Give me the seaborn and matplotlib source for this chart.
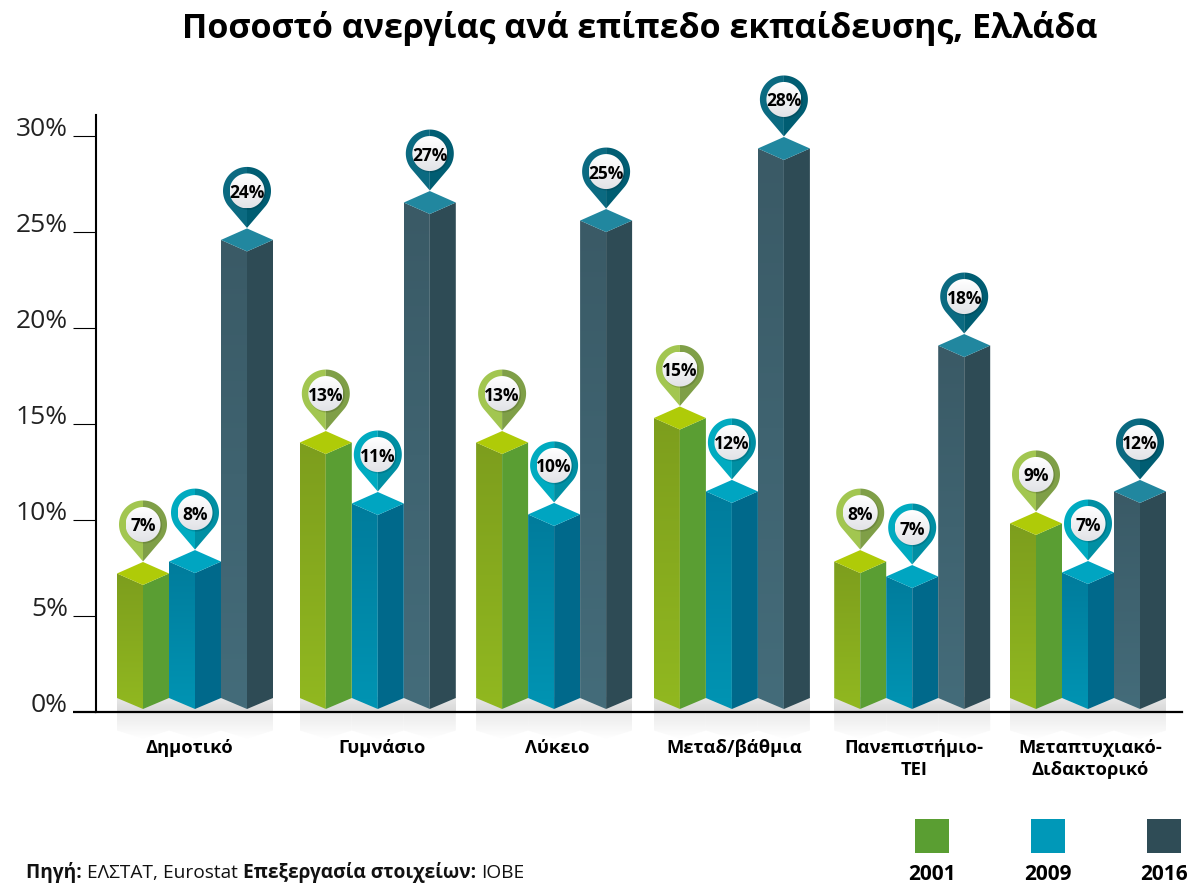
import numpy as np
import pandas as pd
import seaborn as sns
from matplotlib import pyplot as plt
from matplotlib.patches import Polygon, Rectangle

# values
levels = ['Δημοτικό', 'Γυμνάσιο', 'Λύκειο', 'Μεταδ/βάθμια', 'Πανεπιστήμιο-\nΤΕΙ', 'Μεταπτυχιακό-\nΔιδακτορικό']
years = ['2001', '2009', '2016']
rate_2001 = [7.2, 14.03, 14.03, 15.31, 7.82, 9.81]
rate_2009 = [7.82, 10.85, 10.28, 11.48, 7.04, 7.25]
rate_2016 = [24.6, 26.55, 25.61, 29.37, 19.09, 11.48]
shown_2001 = ['7%', '13%', '13%', '15%', '8%', '9%']
shown_2009 = ['8%', '11%', '10%', '12%', '7%', '7%']
shown_2016 = ['24%', '27%', '25%', '28%', '18%', '12%']
yticks = [0, 5, 10, 15, 20, 25, 30]

## layout, in pixels of the 1195x885 picture
W, H = 1195, 885
AX_LEFT, AX_RIGHT, AX_TOP, AX_ZERO = 96, 1182, 115, 711.5
PX_PER_PCT = 19.17
GROUP_STEP = 178.8
BAR_W = 52
DIAMOND = 11.5
group_nudge = [0, 4, 1.5, 0.5, 2, -1]
label_nudge = [-6, 8, 5, 3, 4, 1]

face_left = {'2001': ('#7d9e1d', '#91b820'), '2009': ('#007c9c', '#0094b3'), '2016': ('#3a5a66', '#446c7a')}
face_right = {'2001': '#5a9e33', '2009': '#00698b', '2016': '#2e4b55'}
face_top = {'2001': '#afcb08', '2009': '#00a5c1', '2016': '#21879f'}
pin_left = {'2001': '#a2c650', '2009': '#00abc0', '2016': '#0b6a81'}
pin_right = {'2001': '#7f9f47', '2009': '#008fa3', '2016': '#005d72'}
swatch = {'2001': '#5a9e32', '2009': '#0098b8', '2016': '#2f4c56'}

df = pd.DataFrame({'level': levels * 3,
                   'year': np.repeat(years, len(levels)),
                   'rate': rate_2001 + rate_2009 + rate_2016})
shown = {'2001': shown_2001, '2009': shown_2009, '2016': shown_2016}

sns.set_style('white')
plt.rcParams['font.family'] = ['Open Sans', 'DejaVu Sans']

fig = plt.figure(figsize=(W / 100, H / 100), dpi=100)
ax = fig.add_axes([AX_LEFT / W, 1 - AX_ZERO / H, (AX_RIGHT - AX_LEFT) / W, (AX_ZERO - AX_TOP) / H])

sns.barplot(ax=ax, data=df, x='level', y='rate', hue='year', order=levels, hue_order=years,
            width=3 * BAR_W / GROUP_STEP, gap=0, palette=swatch, legend=False, errorbar=None)

## pixels to data units
dx = 1 / GROUP_STEP
dy = 1 / PX_PER_PCT
ax.set_xlim(-(195 - AX_LEFT) * dx, (AX_RIGHT - 195) * dx)
ax.set_ylim(0, (AX_ZERO - AX_TOP) * dy)
ax.set_autoscale_on(False)


def gradient(pts, c_top, c_bottom, z):
    pts = np.array(pts)
    top = np.array(plt.matplotlib.colors.to_rgba(c_top))
    bottom = np.array(plt.matplotlib.colors.to_rgba(c_bottom))
    ramp = np.linspace(0, 1, 64)[:, None, None]
    img = top * (1 - ramp) + bottom * ramp
    im = ax.imshow(img, extent=(pts[:, 0].min(), pts[:, 0].max(), pts[:, 1].min(), pts[:, 1].max()),
                   aspect='auto', origin='upper', zorder=z, interpolation='bilinear')
    im.set_clip_path(Polygon(pts, transform=ax.transData))
    im.set_clip_box(fig.bbox)   # the reflection hangs below the axes
    return im


def pin(xc, tip_y, label, year):
    R = 24
    depth = 37
    cy = tip_y + depth * dy
    a = np.arccos(R / depth)
    ang = np.linspace(0, np.pi - a, 40)
    # left half goes from top round to the tangent, right half is its mirror
    lx, ly = -R * np.sin(ang), R * np.cos(ang)
    left = np.column_stack([xc + np.r_[lx, 0] * dx, cy + np.r_[ly, -depth] * dy])
    right = np.column_stack([xc - np.r_[lx, 0] * dx, cy + np.r_[ly, -depth] * dy])
    ax.add_patch(Polygon(left, fc=pin_left[year], ec='none', zorder=5, clip_on=False))
    ax.add_patch(Polygon(right, fc=pin_right[year], ec='none', zorder=5, clip_on=False))
    t = np.linspace(0, 2 * np.pi, 80)
    ax.add_patch(Polygon(np.column_stack([xc + (18 * np.cos(t) + 1) * dx, cy + (18 * np.sin(t) - 1) * dy]),
                         fc='#00000022', ec='none', zorder=5.1, clip_on=False))
    circle = np.column_stack([xc + 17.5 * np.cos(t) * dx, cy + 17.5 * np.sin(t) * dy])
    gradient(circle, '#ffffff', '#e2e3e7', 5.2)
    ax.text(xc, cy, label, ha='center', va='center_baseline', fontsize=12.5, fontweight='bold',
            color='black', zorder=6, clip_on=False)


zero_front = (AX_ZERO - 709) * dy
zero_side = (AX_ZERO - 698) * dy

for year, bars in zip(years, ax.containers):
    for i, rect in enumerate(bars):
        rect.set_visible(False)
        x0 = rect.get_x() + group_nudge[i] * dx
        x1 = x0 + rect.get_width()
        xc = (x0 + x1) / 2
        top = rect.get_height()
        d = DIAMOND * dy

        # grey floor behind the bar and its reflection under the axis line
        gradient([(x0, 15 * dy), (x1, 15 * dy), (x1, 0), (x0, 0)], '#e8e8e8', '#d8d8d8', 1)
        gradient([(x0, 0), (x1, 0), (x1, -19 * dy), (xc, -27 * dy), (x0, -19 * dy)], '#eaeaea', '#ffffff', 1)

        gradient([(x0, top), (xc, top - d), (xc, zero_front), (x0, zero_side)],
                 face_left[year][0], face_left[year][1], 3)
        ax.add_patch(Polygon([(xc, top - d), (x1, top), (x1, zero_side), (xc, zero_front)],
                             fc=face_right[year], ec='none', zorder=3))
        ax.add_patch(Polygon([(x0, top), (xc, top + d), (x1, top), (xc, top - d)],
                             fc=face_top[year], ec='none', zorder=3.1, clip_on=False))
        pin(xc, top + d + 0.5 * dy, shown[year][i], year)

## axes
for side in ['top', 'right']:
    ax.spines[side].set_visible(False)
ax.spines['left'].set_linewidth(1.5)
ax.spines['left'].set_color('black')
ax.spines['bottom'].set_linewidth(1.6)
ax.spines['bottom'].set_color('black')

ax.set_yticks(yticks)
ax.set_yticklabels([f'{v}%' for v in yticks], fontsize=19, color='#222222', va='baseline')
ax.tick_params(axis='y', left=True, length=16.6, width=0.8, color='black', pad=3.5)
ax.yaxis.get_major_ticks()[0].tick1line.set_markeredgewidth(1.6)

ax.set_xticks([i + label_nudge[i] * dx for i in range(len(levels))])
ax.set_xticklabels(levels, fontsize=13.2, fontweight='bold', color='black', linespacing=1.35)
ax.tick_params(axis='x', bottom=False, length=0, pad=19.5)
ax.set_xlabel('')
ax.set_ylabel('')

## title
fig.text(640 / W, 1 - 28 / H, 'Ποσοστό ανεργίας ανά επίπεδο εκπαίδευσης, Ελλάδα',
         ha='center', va='center', fontsize=24.5, fontweight='bold', color='black')

## legend: squares with the year underneath
for year, x in zip(years, [932, 1048, 1164]):
    fig.add_artist(Rectangle(((x - 17) / W, 1 - 853 / H), 34 / W, 34 / H, fc=swatch[year], ec='none',
                             transform=fig.transFigure))
    fig.text((x - 0.5) / W, 1 - 875 / H, year, ha='center', va='center', fontsize=15, fontweight='bold', color='black')

## source line, pieces set one after the other
renderer = fig.canvas.get_renderer()
xpos = 26
for part, weight in [('Πηγή: ', 'bold'), ('ΕΛΣΤΑΤ, Eurostat ', 'normal'),
                     ('Επεξεργασία στοιχείων: ', 'bold'), ('ΙΟΒΕ', 'normal')]:
    txt = fig.text(xpos / W, 1 - 878 / H, part.replace(' ', '\u00a0'), ha='left', va='baseline',
                   fontsize=13.75, fontweight=weight, color='#111111')
    xpos = txt.get_window_extent(renderer).x1

fig.savefig('out.png', dpi=100)
